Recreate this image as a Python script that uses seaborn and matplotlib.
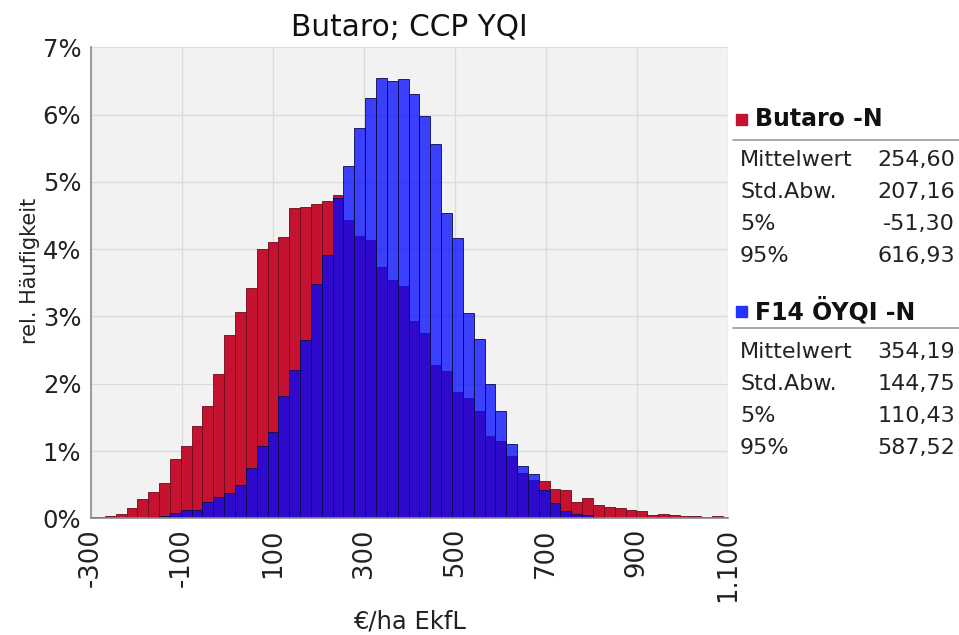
import numpy as np
import pandas as pd
import matplotlib
matplotlib.use("Agg")
import matplotlib.pyplot as plt
from matplotlib.lines import Line2D
from matplotlib.patches import Rectangle
import seaborn as sns

# histogram bins (equal width)
bin_left = -317.2
bin_width = 23.85

# relative frequency in % per bin
butaro_pct = [0.02, 0.02, 0.04, 0.06, 0.15, 0.28, 0.39, 0.53, 0.88, 1.08,
              1.37, 1.67, 2.14, 2.73, 3.06, 3.42, 4.00, 4.10, 4.18, 4.61,
              4.62, 4.67, 4.71, 4.81, 4.44, 4.20, 4.13, 3.74, 3.54, 3.45,
              2.93, 2.76, 2.28, 2.19, 1.87, 1.79, 1.59, 1.22, 1.15, 0.93,
              0.68, 0.57, 0.56, 0.43, 0.42, 0.24, 0.30, 0.20, 0.17, 0.16,
              0.12, 0.11, 0.05, 0.06, 0.05, 0.04, 0.04, 0.02, 0.03, 0.02]
f14_pct = [0.00, 0.01, 0.01, 0.01, 0.01, 0.01, 0.02, 0.04, 0.08, 0.12,
           0.12, 0.24, 0.31, 0.37, 0.50, 0.75, 1.08, 1.28, 1.82, 2.21,
           2.65, 3.48, 3.91, 4.76, 5.24, 5.80, 6.25, 6.54, 6.50, 6.53,
           6.31, 5.98, 5.57, 4.53, 4.17, 3.05, 2.66, 1.99, 1.59, 1.10,
           0.77, 0.66, 0.42, 0.22, 0.11, 0.07, 0.05, 0.02, 0.01, 0.01,
           0.00, 0.00, 0.00, 0.00, 0.00, 0.00, 0.00, 0.00, 0.00, 0.00]

x_ticks = [-300, -100, 100, 300, 500, 700, 900, 1100]
x_tick_labels = ["-300", "-100", "100", "300", "500", "700", "900", "1.100"]
y_ticks = [0, 1, 2, 3, 4, 5, 6, 7]

stat_names = ["Mittelwert", "Std.Abw.", "5%", "95%"]
butaro_stats = ["254,60", "207,16", "-51,30", "616,93"]
f14_stats = ["354,19", "144,75", "110,43", "587,52"]

red = "#C41230"
blue = "#0008FF"

n_bins = len(butaro_pct)
centers = bin_left + bin_width * (np.arange(n_bins) + 0.5)
bin_range = (bin_left, bin_left + bin_width * n_bins)
df = pd.DataFrame({"x": centers, "butaro": butaro_pct, "f14": f14_pct})

sns.set_theme(style="whitegrid")
plt.rcParams["font.family"] = ["DejaVu Sans"]

W, H = 959, 635
fig = plt.figure(figsize=(W / 100, H / 100), dpi=100)


def fx(px):
    return px / W


def fy(py):
    return 1 - py / H


ax = fig.add_axes([fx(91), fy(518.3), fx(727.7) - fx(91), fy(47.3) - fy(518.3)])

sns.histplot(data=df, x="x", weights="butaro", binwidth=bin_width, binrange=bin_range,
             color=red, alpha=1, edgecolor="#6e0a1c", linewidth=0.6, ax=ax)
sns.histplot(data=df, x="x", weights="f14", binwidth=bin_width, binrange=bin_range,
             color=blue, alpha=0.76, edgecolor="#0a0a50", linewidth=0.6, ax=ax)

ax.set_xlim(-300, 1100)
ax.set_ylim(0, 7)
ax.set_facecolor("#F2F2F2")
ax.set_axisbelow(True)
ax.grid(True, color="#DADADA", linewidth=0.9)
for s in ["top", "right"]:
    ax.spines[s].set_visible(False)
for s in ["left", "bottom"]:
    ax.spines[s].set_color("#8a8a8a")
    ax.spines[s].set_linewidth(1.2)

ax.set_xticks(x_ticks)
ax.set_xticklabels(x_tick_labels, rotation=90, fontsize=18.5, color="#222222")
ax.set_yticks(y_ticks)
ax.set_yticklabels([f"{v}%" for v in y_ticks], fontsize=17.5, color="#222222")
ax.tick_params(axis="both", length=3, color="#8a8a8a", pad=4)

ax.set_ylabel("rel. Häufigkeit", fontsize=15, color="#222222")
ax.yaxis.set_label_coords(-0.08, 0.525)
ax.set_xlabel("€/ha EkfL", fontsize=17.5, color="#222222")
ax.xaxis.set_label_coords(0.5, -0.193)
ax.set_title("Butaro; CCP YQI", fontsize=21.3, color="#111111", pad=8)

# legend / statistics panel on the right
blocks = [("Butaro -N", red, butaro_stats, 119, 140, [160, 192.5, 224.5, 256.5]),
          ("F14 ÖYQI -N", "#2233FF", f14_stats, 310.5, 327.5, [352.5, 384.5, 416.5, 448])]
for title, col, vals, ty, ly, rows in blocks:
    fig.add_artist(Rectangle((fx(735.5), fy(ty + 6)), fx(11), fy(0) - fy(11),
                             transform=fig.transFigure, color=col))
    fig.text(fx(755), fy(ty), title, fontsize=17, fontweight="bold",
             color="#111111", va="center", ha="left")
    fig.add_artist(Line2D([fx(733), fx(959)], [fy(ly), fy(ly)],
                          transform=fig.transFigure, color="#9a9a9a", linewidth=1.2))
    for name, v, ry in zip(stat_names, vals, rows):
        fig.text(fx(740), fy(ry), name, fontsize=16, color="#222222",
                 va="center", ha="left")
        fig.text(fx(955), fy(ry), v, fontsize=16, color="#222222",
                 va="center", ha="right")

fig.savefig("out.png", dpi=100, facecolor="white")
